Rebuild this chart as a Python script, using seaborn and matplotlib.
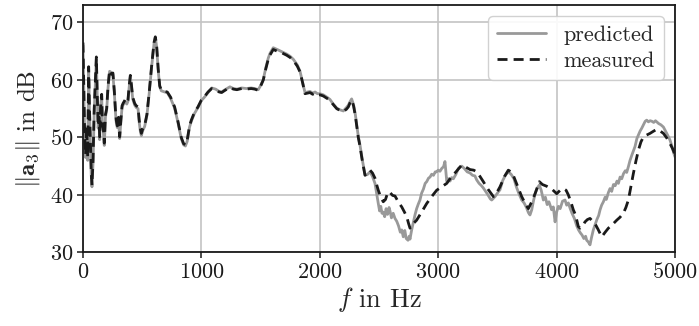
import numpy as np
import pandas as pd
import matplotlib
matplotlib.use("Agg")
import matplotlib.pyplot as plt
import seaborn as sns

# Magnitude of the third transfer coefficient over frequency
freq_meas = [
    0, 8, 15, 22, 30, 40, 48, 55, 62, 70, 76, 85, 95, 105, 113, 120, 128, 135,
    141, 150, 158, 165, 172, 180, 190, 200, 212, 225, 240, 253, 265, 275, 281,
    290, 300, 310, 320, 330, 338, 355, 370, 380, 390, 400, 410, 420, 437, 450,
    465, 475, 485, 493, 505, 521, 540, 560, 580, 600, 611, 622, 635, 648, 662,
    690, 712, 740, 774, 800, 830, 850, 865, 880, 900, 915, 940, 971, 1000,
    1030, 1056, 1087, 1120, 1150, 1171, 1200, 1241, 1270, 1300, 1340, 1380,
    1420, 1450, 1480, 1500, 1523, 1545, 1565, 1579, 1607, 1640, 1680, 1720,
    1750, 1776, 1810, 1833, 1855, 1875, 1895, 1917, 1940, 1960, 1980, 2002,
    2030, 2060, 2086, 2110, 2143, 2170, 2199, 2225, 2241, 2255, 2269, 2285,
    2300, 2312, 2325, 2340, 2360, 2382, 2400, 2424, 2445, 2466, 2480, 2494,
    2515, 2536, 2555, 2575, 2593, 2615, 2635, 2665, 2692, 2715, 2734, 2750,
    2762, 2790, 2818, 2860, 2903, 2945, 2987, 3030, 3072, 3100, 3114, 3150,
    3199, 3235, 3269, 3300, 3325, 3353, 3381, 3420, 3466, 3495, 3522, 3560,
    3592, 3615, 3634, 3670, 3705, 3735, 3761, 3790, 3818, 3854, 3880, 3916,
    3960, 4001, 4030, 4057, 4080, 4099, 4120, 4141, 4160, 4183, 4198, 4220,
    4240, 4260, 4282, 4300, 4324, 4350, 4381, 4410, 4437, 4470, 4508, 4535,
    4564, 4585, 4606, 4625, 4648, 4670, 4691, 4712, 4733, 4760, 4789, 4820,
    4846, 4875, 4902, 4930, 4958, 4980, 5000,
]
measured_db = [
    66.5, 58.0, 50.0, 47.0, 52.0, 46.6, 62.3, 55.0, 50.0, 44.0, 41.7, 46.0,
    55.0, 60.0, 64.0, 58.0, 52.0, 53.5, 50.1, 56.0, 57.5, 52.0, 51.5, 49.0,
    54.0, 55.0, 59.0, 61.7, 61.0, 61.2, 58.0, 54.5, 53.0, 52.0, 53.5, 50.1,
    53.0, 55.5, 55.9, 56.5, 56.0, 56.5, 59.0, 60.8, 59.0, 57.0, 55.9, 55.5,
    55.3, 53.0, 51.5, 50.7, 51.5, 52.1, 54.0, 58.0, 62.5, 66.5, 67.5, 66.0,
    62.0, 59.0, 58.2, 58.0, 57.9, 57.0, 55.3, 53.0, 50.0, 48.9, 48.7, 49.5,
    52.0, 53.0, 54.3, 55.3, 56.5, 57.2, 57.9, 58.5, 58.3, 57.9, 57.8, 58.2,
    58.7, 58.4, 58.3, 58.5, 58.4, 58.5, 58.4, 58.2, 58.9, 60.0, 62.0, 63.6,
    64.3, 65.3, 65.0, 64.7, 64.3, 63.9, 63.4, 62.4, 61.4, 59.5, 57.6, 57.7,
    57.8, 57.5, 57.7, 57.4, 57.4, 57.2, 56.8, 56.5, 55.8, 55.0, 54.7, 54.5,
    54.9, 55.3, 56.0, 56.5, 55.5, 53.8, 52.0, 50.0, 48.4, 45.8, 43.4, 43.7,
    44.3, 43.8, 42.9, 41.8, 40.8, 39.6, 38.8, 39.2, 40.5, 40.4, 39.9, 39.8,
    38.7, 37.9, 37.0, 36.2, 35.0, 34.2, 35.0, 35.6, 37.0, 38.5, 39.7, 40.8,
    41.4, 42.0, 42.8, 43.2, 44.0, 45.2, 44.8, 44.4, 44.3, 44.0, 43.2, 42.3,
    41.0, 39.7, 40.4, 41.4, 43.2, 44.3, 44.0, 43.4, 41.5, 39.7, 38.5, 37.6,
    38.8, 40.2, 42.3, 41.8, 41.5, 41.0, 40.2, 40.8, 41.1, 40.8, 40.0, 38.8,
    37.4, 36.5, 34.5, 34.2, 34.6, 35.3, 35.7, 35.9, 35.5, 35.0, 34.0, 32.7,
    33.5, 34.2, 34.8, 35.6, 36.1, 36.8, 37.8, 39.1, 41.2, 43.7, 45.9, 47.8,
    49.2, 50.1, 50.4, 50.7, 51.1, 51.4, 51.1, 50.7, 49.9, 48.9, 48.0, 47.0,
]

freq_pred = [
    0, 8, 15, 22, 30, 40, 48, 55, 62, 70, 76, 85, 95, 105, 113, 120, 128, 135,
    141, 150, 158, 165, 172, 180, 190, 200, 212, 225, 240, 253, 265, 275, 281,
    290, 300, 310, 320, 330, 338, 355, 370, 380, 390, 400, 410, 420, 437, 450,
    465, 475, 485, 493, 505, 521, 540, 560, 580, 600, 611, 622, 635, 648, 662,
    690, 712, 740, 774, 800, 830, 850, 865, 880, 900, 915, 940, 971, 1000,
    1030, 1056, 1087, 1120, 1150, 1171, 1200, 1241, 1270, 1300, 1340, 1380,
    1420, 1450, 1480, 1500, 1523, 1545, 1565, 1579, 1607, 1640, 1680, 1720,
    1750, 1776, 1810, 1833, 1855, 1875, 1895, 1917, 1940, 1960, 1980, 2002,
    2030, 2060, 2086, 2110, 2143, 2170, 2199, 2225, 2241, 2255, 2269, 2285,
    2300, 2312, 2325, 2340, 2360, 2382, 2400, 2424, 2445, 2466, 2480, 2494,
    2505, 2515, 2525, 2536, 2548, 2560, 2572, 2585, 2593, 2605, 2620, 2635,
    2650, 2665, 2680, 2692, 2705, 2718, 2730, 2745, 2755, 2762, 2775, 2790,
    2805, 2818, 2832, 2846, 2860, 2875, 2890, 2903, 2918, 2931, 2945, 2960,
    2975, 2987, 3000, 3015, 3030, 3045, 3057, 3064, 3072, 3085, 3100, 3114,
    3128, 3150, 3170, 3199, 3220, 3245, 3269, 3290, 3310, 3325, 3345, 3365,
    3381, 3400, 3420, 3440, 3452, 3466, 3480, 3500, 3522, 3545, 3570, 3592,
    3615, 3640, 3660, 3680, 3705, 3725, 3745, 3762, 3775, 3790, 3805, 3820,
    3840, 3854, 3870, 3888, 3905, 3920, 3935, 3958, 3972, 3987, 4000, 4015,
    4030, 4050, 4071, 4085, 4099, 4115, 4130, 4150, 4170, 4185, 4200, 4215,
    4230, 4245, 4254, 4268, 4282, 4295, 4310, 4325, 4340, 4355, 4367, 4380,
    4395, 4410, 4420, 4437, 4451, 4465, 4480, 4495, 4510, 4522, 4536, 4550,
    4565, 4580, 4592, 4606, 4620, 4635, 4648, 4662, 4678, 4690, 4705, 4719,
    4733, 4748, 4761, 4775, 4790, 4805, 4820, 4835, 4846, 4862, 4880, 4902,
    4920, 4940, 4958, 4975, 4990, 5000,
]
predicted_db = [
    66.0, 57.5, 49.2, 46.5, 51.5, 46.0, 61.8, 54.5, 49.5, 43.4, 41.4, 45.5,
    54.6, 59.6, 63.6, 57.6, 51.6, 53.0, 49.6, 55.7, 57.2, 51.6, 51.0, 48.6,
    53.6, 54.7, 58.7, 61.5, 61.3, 60.9, 57.7, 54.2, 52.6, 51.7, 53.2, 49.8,
    52.7, 55.2, 55.6, 56.3, 55.8, 56.3, 58.7, 60.6, 58.8, 56.7, 55.6, 55.2,
    55.0, 52.6, 51.0, 50.3, 51.2, 51.9, 53.8, 57.8, 62.3, 66.3, 67.4, 65.8,
    61.8, 58.8, 58.1, 57.9, 57.8, 56.8, 55.1, 52.8, 49.8, 48.7, 48.5, 49.3,
    51.8, 52.8, 54.1, 55.2, 56.4, 57.1, 57.8, 58.6, 58.4, 58.0, 57.9, 58.3,
    58.8, 58.5, 58.4, 58.6, 58.5, 58.6, 58.5, 58.3, 59.0, 60.1, 62.2, 63.8,
    64.6, 65.6, 65.3, 64.9, 64.5, 64.1, 63.6, 62.6, 61.5, 59.6, 57.8, 57.9,
    58.0, 57.7, 57.9, 57.6, 57.6, 57.4, 57.0, 56.6, 55.9, 55.1, 54.8, 54.6,
    55.2, 55.6, 56.2, 56.7, 55.7, 54.0, 52.2, 50.2, 48.6, 46.0, 43.5, 43.5,
    44.0, 43.2, 42.0, 40.2, 38.5, 37.2, 38.0, 36.8, 37.0, 36.2, 37.6, 36.6,
    37.8, 37.2, 36.0, 36.8, 35.9, 35.4, 34.6, 33.5, 33.9, 32.7, 33.8, 32.4,
    32.1, 32.8, 32.3, 33.8, 35.2, 36.6, 37.6, 38.4, 39.1, 40.3, 41.0, 42.0,
    42.3, 42.9, 43.1, 43.6, 43.4, 44.0, 44.0, 44.3, 44.1, 44.6, 44.9, 45.8,
    44.2, 42.4, 42.8, 42.4, 43.0, 42.8, 43.6, 44.6, 45.0, 44.6, 44.0, 43.8,
    43.4, 43.3, 42.6, 42.0, 41.6, 41.2, 40.6, 40.0, 39.3, 39.1, 39.4, 39.7,
    40.3, 40.9, 42.5, 43.5, 44.0, 43.6, 42.8, 41.4, 40.3, 39.1, 38.6, 37.8,
    36.9, 36.5, 37.4, 39.0, 40.3, 41.3, 41.7, 40.8, 39.1, 39.6, 38.3, 38.8,
    37.4, 37.9, 35.3, 37.0, 38.0, 37.6, 38.9, 39.1, 38.2, 38.6, 37.6, 36.8,
    35.9, 34.6, 33.9, 33.4, 33.0, 32.4, 32.8, 32.1, 31.8, 31.3, 32.6, 33.9,
    34.8, 35.7, 36.4, 37.4, 38.2, 38.8, 39.6, 39.2, 40.4, 41.1, 40.6, 41.8,
    41.6, 42.4, 42.0, 43.1, 42.8, 43.7, 44.2, 43.9, 44.9, 46.0, 46.9, 47.6,
    48.4, 49.8, 50.4, 51.1, 51.6, 52.2, 52.8, 53.0, 52.7, 52.9, 52.8, 52.6,
    52.9, 52.7, 52.4, 52.2, 51.8, 51.1, 50.3, 49.5, 48.4, 47.2, 46.6,
]

x_ticks = [0, 1000, 2000, 3000, 4000, 5000]
y_ticks = [30, 40, 50, 60, 70]

sns.set_style("whitegrid")
plt.rcParams.update({
    "font.family": ["cmr10", "DejaVu Serif"],
    "mathtext.fontset": "cm",
    "axes.formatter.use_mathtext": True,
    "axes.unicode_minus": False,
    "axes.edgecolor": "#1a1a1a",
    "axes.linewidth": 1.3,
    "grid.color": "#c4c4c4",
    "grid.linewidth": 1.2,
    "xtick.bottom": True,
    "ytick.left": True,
    "xtick.color": "#1a1a1a",
    "ytick.color": "#1a1a1a",
    "xtick.major.size": 4.0,
    "ytick.major.size": 4.0,
    "xtick.major.width": 1.1,
    "ytick.major.width": 1.1,
})

pred_df = pd.DataFrame({"f": freq_pred, "a3": predicted_db})
meas_df = pd.DataFrame({"f": freq_meas, "a3": measured_db})

fig = plt.figure(figsize=(6.99, 3.26), dpi=100)
ax = fig.add_axes([0.1187, 0.226, 0.847, 0.758])

sns.lineplot(data=pred_df, x="f", y="a3", ax=ax, color="#999999",
             linewidth=2.0, estimator=None, label="predicted")
sns.lineplot(data=meas_df, x="f", y="a3", ax=ax, color="#1a1a1a",
             linewidth=2.0, estimator=None, label="measured",
             dashes=False)
ax.lines[-1].set_dashes([3.6, 2.2])

ax.set_xlim(0, 5000)
ax.set_ylim(30, 73)
ax.set_xticks(x_ticks)
ax.set_yticks(y_ticks)
ax.tick_params(labelsize=16, pad=3)
for s in ax.spines.values():
    s.set_color("#1a1a1a")

ax.set_xlabel(r"$f$ in Hz", fontsize=19, labelpad=2)
ax.set_ylabel(r"$\|\mathbf{a}_3\|$ in dB", fontsize=18, labelpad=6)

leg = ax.legend(loc="upper right", fontsize=16, handlelength=2.2,
                frameon=True, fancybox=True, framealpha=0.9,
                borderpad=0.4, labelspacing=0.3, handletextpad=0.8)
leg.get_frame().set_edgecolor("#cccccc")

fig.savefig("out.png", dpi=100)
